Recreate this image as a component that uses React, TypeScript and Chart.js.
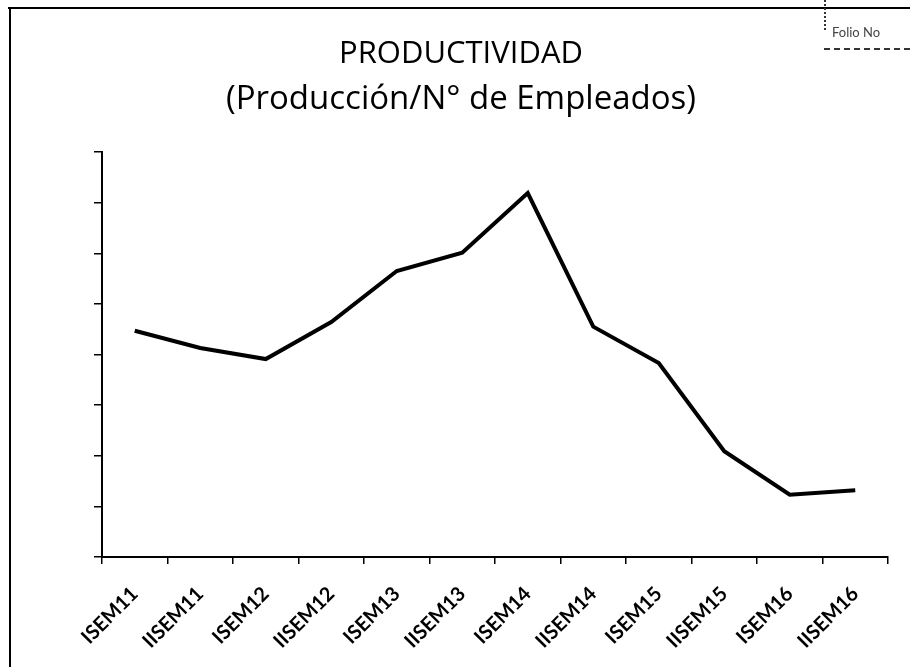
import React, { useEffect, useRef } from "react";
import { Chart, registerables } from "chart.js";

Chart.register(...registerables);

const categories = [
  "ISEM11", "IISEM11", "ISEM12", "IISEM12", "ISEM13", "IISEM13",
  "ISEM14", "IISEM14", "ISEM15", "IISEM15", "ISEM16", "IISEM16",
];
const productividad = [4.47, 4.13, 3.91, 4.64, 5.65, 6.01, 7.19, 4.55, 3.83, 2.09, 1.23, 1.32];
const titleText = "PRODUCTIVIDAD";
const subtitleText = "(Producción/N° de Empleados)";
const yMin = 0;
const yMax = 8;
const yStep = 1;

export default function App() {
  const ref = useRef<HTMLCanvasElement | null>(null);

  useEffect(() => {
    if (!ref.current) return;
    const chart = new Chart(ref.current, {
      type: "line",
      data: {
        labels: categories,
        datasets: [
          {
            label: "Productividad",
            data: productividad,
            borderColor: "#000000",
            borderWidth: 4,
            pointRadius: 0,
            tension: 0,
            fill: false,
          },
        ],
      },
      options: {
        animation: false,
        responsive: false,
        layout: { padding: { left: 34, right: 22, top: 0, bottom: 0 } },
        plugins: {
          legend: { display: false },
          tooltip: { enabled: false },
          title: {
            display: true,
            text: titleText,
            color: "#000000",
            font: { family: "Open Sans", size: 31, weight: "normal", lineHeight: 1 },
            padding: { top: 39, bottom: 0 },
          },
          subtitle: {
            display: true,
            text: subtitleText,
            color: "#000000",
            font: { family: "Open Sans", size: 33, weight: "normal", lineHeight: 1 },
            padding: { top: 13, bottom: 36 },
          },
        },
        scales: {
          x: {
            offset: true,
            grid: {
              offset: true,
              drawOnChartArea: false,
              drawTicks: true,
              tickLength: 7,
              color: "#000000",
              lineWidth: 1.5,
            },
            border: { display: true, color: "#000000", width: 2 },
            ticks: {
              color: "#000000",
              minRotation: 45,
              maxRotation: 45,
              autoSkip: false,
              padding: 18,
              font: { family: "Lato", size: 20, weight: "bold" },
            },
            afterFit: (scale: any) => {
              scale.height = 110;
            },
          },
          y: {
            min: yMin,
            max: yMax,
            grid: {
              drawOnChartArea: false,
              drawTicks: true,
              tickLength: 8,
              color: "#000000",
              lineWidth: 1.5,
            },
            border: { display: true, color: "#000000", width: 2 },
            ticks: { display: false, stepSize: yStep },
            afterFit: (scale: any) => {
              scale.width = 68;
            },
          },
        },
      },
    });
    return () => chart.destroy();
  }, []);

  return (
    <div style={{ position: "fixed", left: 0, top: 0, width: 910, height: 667, background: "#fff", overflow: "hidden" }}>
      <canvas ref={ref} width={910} height={667} style={{ position: "absolute", left: 0, top: 0 }} />
      <div style={{ position: "absolute", left: 8, top: 7, width: 902, height: 2, background: "#000" }} />
      <div style={{ position: "absolute", left: 9, top: 7, width: 2, height: 660, background: "#000" }} />
      <div style={{ position: "absolute", left: 824, top: 0, width: 0, height: 30, borderLeft: "2px dotted #333" }} />
      <div style={{ position: "absolute", left: 824, top: 48, width: 86, height: 0, borderTop: "2px dashed #333" }} />
      <div style={{ position: "absolute", left: 832, top: 24, fontFamily: "Lato", fontSize: 13, color: "#444", whiteSpace: "nowrap" }}>
        Folio No
      </div>
    </div>
  );
}
